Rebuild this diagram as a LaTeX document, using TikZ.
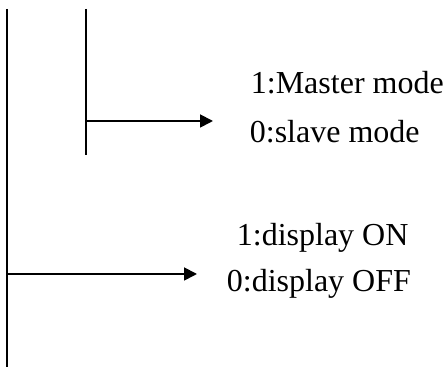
\documentclass[tikz,border=0pt]{standalone}
\usepackage{fontspec}
\setmainfont{Liberation Serif}
\usetikzlibrary{arrows.meta}

\begin{document}
\begin{tikzpicture}[x=0.5pt, y=-0.5pt, line width=0.9pt,
    lbl/.style={anchor=base west, inner sep=0pt, font=\fontsize{16}{19}\selectfont},
    pointer/.style={-{Triangle[length=6.5pt,width=6.5pt]}}]
    \useasboundingbox (0, 0) rectangle (445, 367);

    \draw (7, 9) -- (7, 367);
    \draw (86, 9) -- (86, 155);

    \coordinate (modeTap) at (86, 121);
    \coordinate (modeTip) at (213, 121);
    \draw[pointer] (modeTap) -- (modeTip);
    \node[lbl] (master) at (250, 94) {1:Master mode};
    \node[lbl] (slave) at (249, 143) {0:slave mode};

    \coordinate (dispTap) at (7, 274);
    \coordinate (dispTip) at (197, 274);
    \draw[pointer] (dispTap) -- (dispTip);
    \node[lbl] (dispOn) at (236, 246) {1:display ON};
    \node[lbl] (dispOff) at (226, 292) {0:display OFF};
\end{tikzpicture}
\end{document}
